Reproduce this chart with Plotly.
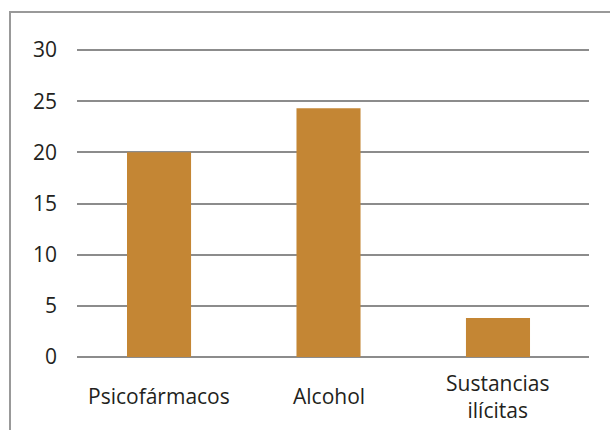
import plotly.graph_objects as go

# Data
categories = ["Psicofármacos", "Alcohol", "Sustancias<br>ilícitas"]
values = [20, 24.3, 3.8]
y_ticks = [0, 5, 10, 15, 20, 25, 30]

BAR_COLOR = "#C48634"
GRID_COLOR = "#8C8C8C"
TEXT_COLOR = "#231F20"
FONT = "Open Sans"
FONT_SIZE = 21

W, H = 610, 430
ML, MR, MT, MB = 77, 21, 49, 73
PW = W - ML - MR
PH = H - MT - MB
Y_TOP = 30.1

fig = go.Figure(
    go.Bar(
        x=list(range(len(categories))),
        y=values,
        marker=dict(color=BAR_COLOR, line=dict(width=0)),
        width=0.378,
        hoverinfo="skip",
    )
)

# Category labels, centred vertically under each bar
for i, c in enumerate(categories):
    fig.add_annotation(
        x=i, xref="x",
        y=-(396 - (H - MB)) / PH, yref="paper",
        text=c, showarrow=False,
        xanchor="center", yanchor="middle",
        font=dict(family=FONT, size=FONT_SIZE, color=TEXT_COLOR),
        align="center",
    )

# Frame around the chart (open on the right and bottom edges)
fx0 = (10 - ML) / PW
fx1 = (W - ML) / PW
fy0 = -(MB) / PH
fy1 = ((H - MB) - 12) / PH
fig.add_shape(
    type="path", xref="paper", yref="paper",
    path=f"M {fx0} {fy0} L {fx0} {fy1} L {fx1} {fy1}",
    line=dict(color="#999999", width=2),
)

fig.update_layout(
    width=W, height=H,
    margin=dict(l=ML, r=MR, t=MT, b=MB),
    paper_bgcolor="white",
    plot_bgcolor="white",
    showlegend=False,
    font=dict(family=FONT, size=FONT_SIZE, color=TEXT_COLOR),
    xaxis=dict(
        range=[-0.484, 2.537],
        showticklabels=False,
        showgrid=False,
        zeroline=False,
        showline=False,
        fixedrange=True,
    ),
    yaxis=dict(
        range=[0, Y_TOP],
        tickvals=y_ticks,
        ticktext=[str(v) for v in y_ticks],
        showgrid=True,
        gridcolor=GRID_COLOR,
        gridwidth=2,
        zeroline=True,
        zerolinecolor=GRID_COLOR,
        zerolinewidth=2,
        showline=False,
        ticks="",
        ticklabelstandoff=19,
        tickfont=dict(family=FONT, size=FONT_SIZE, color=TEXT_COLOR),
        fixedrange=True,
    ),
)

fig.write_html("out.html")
